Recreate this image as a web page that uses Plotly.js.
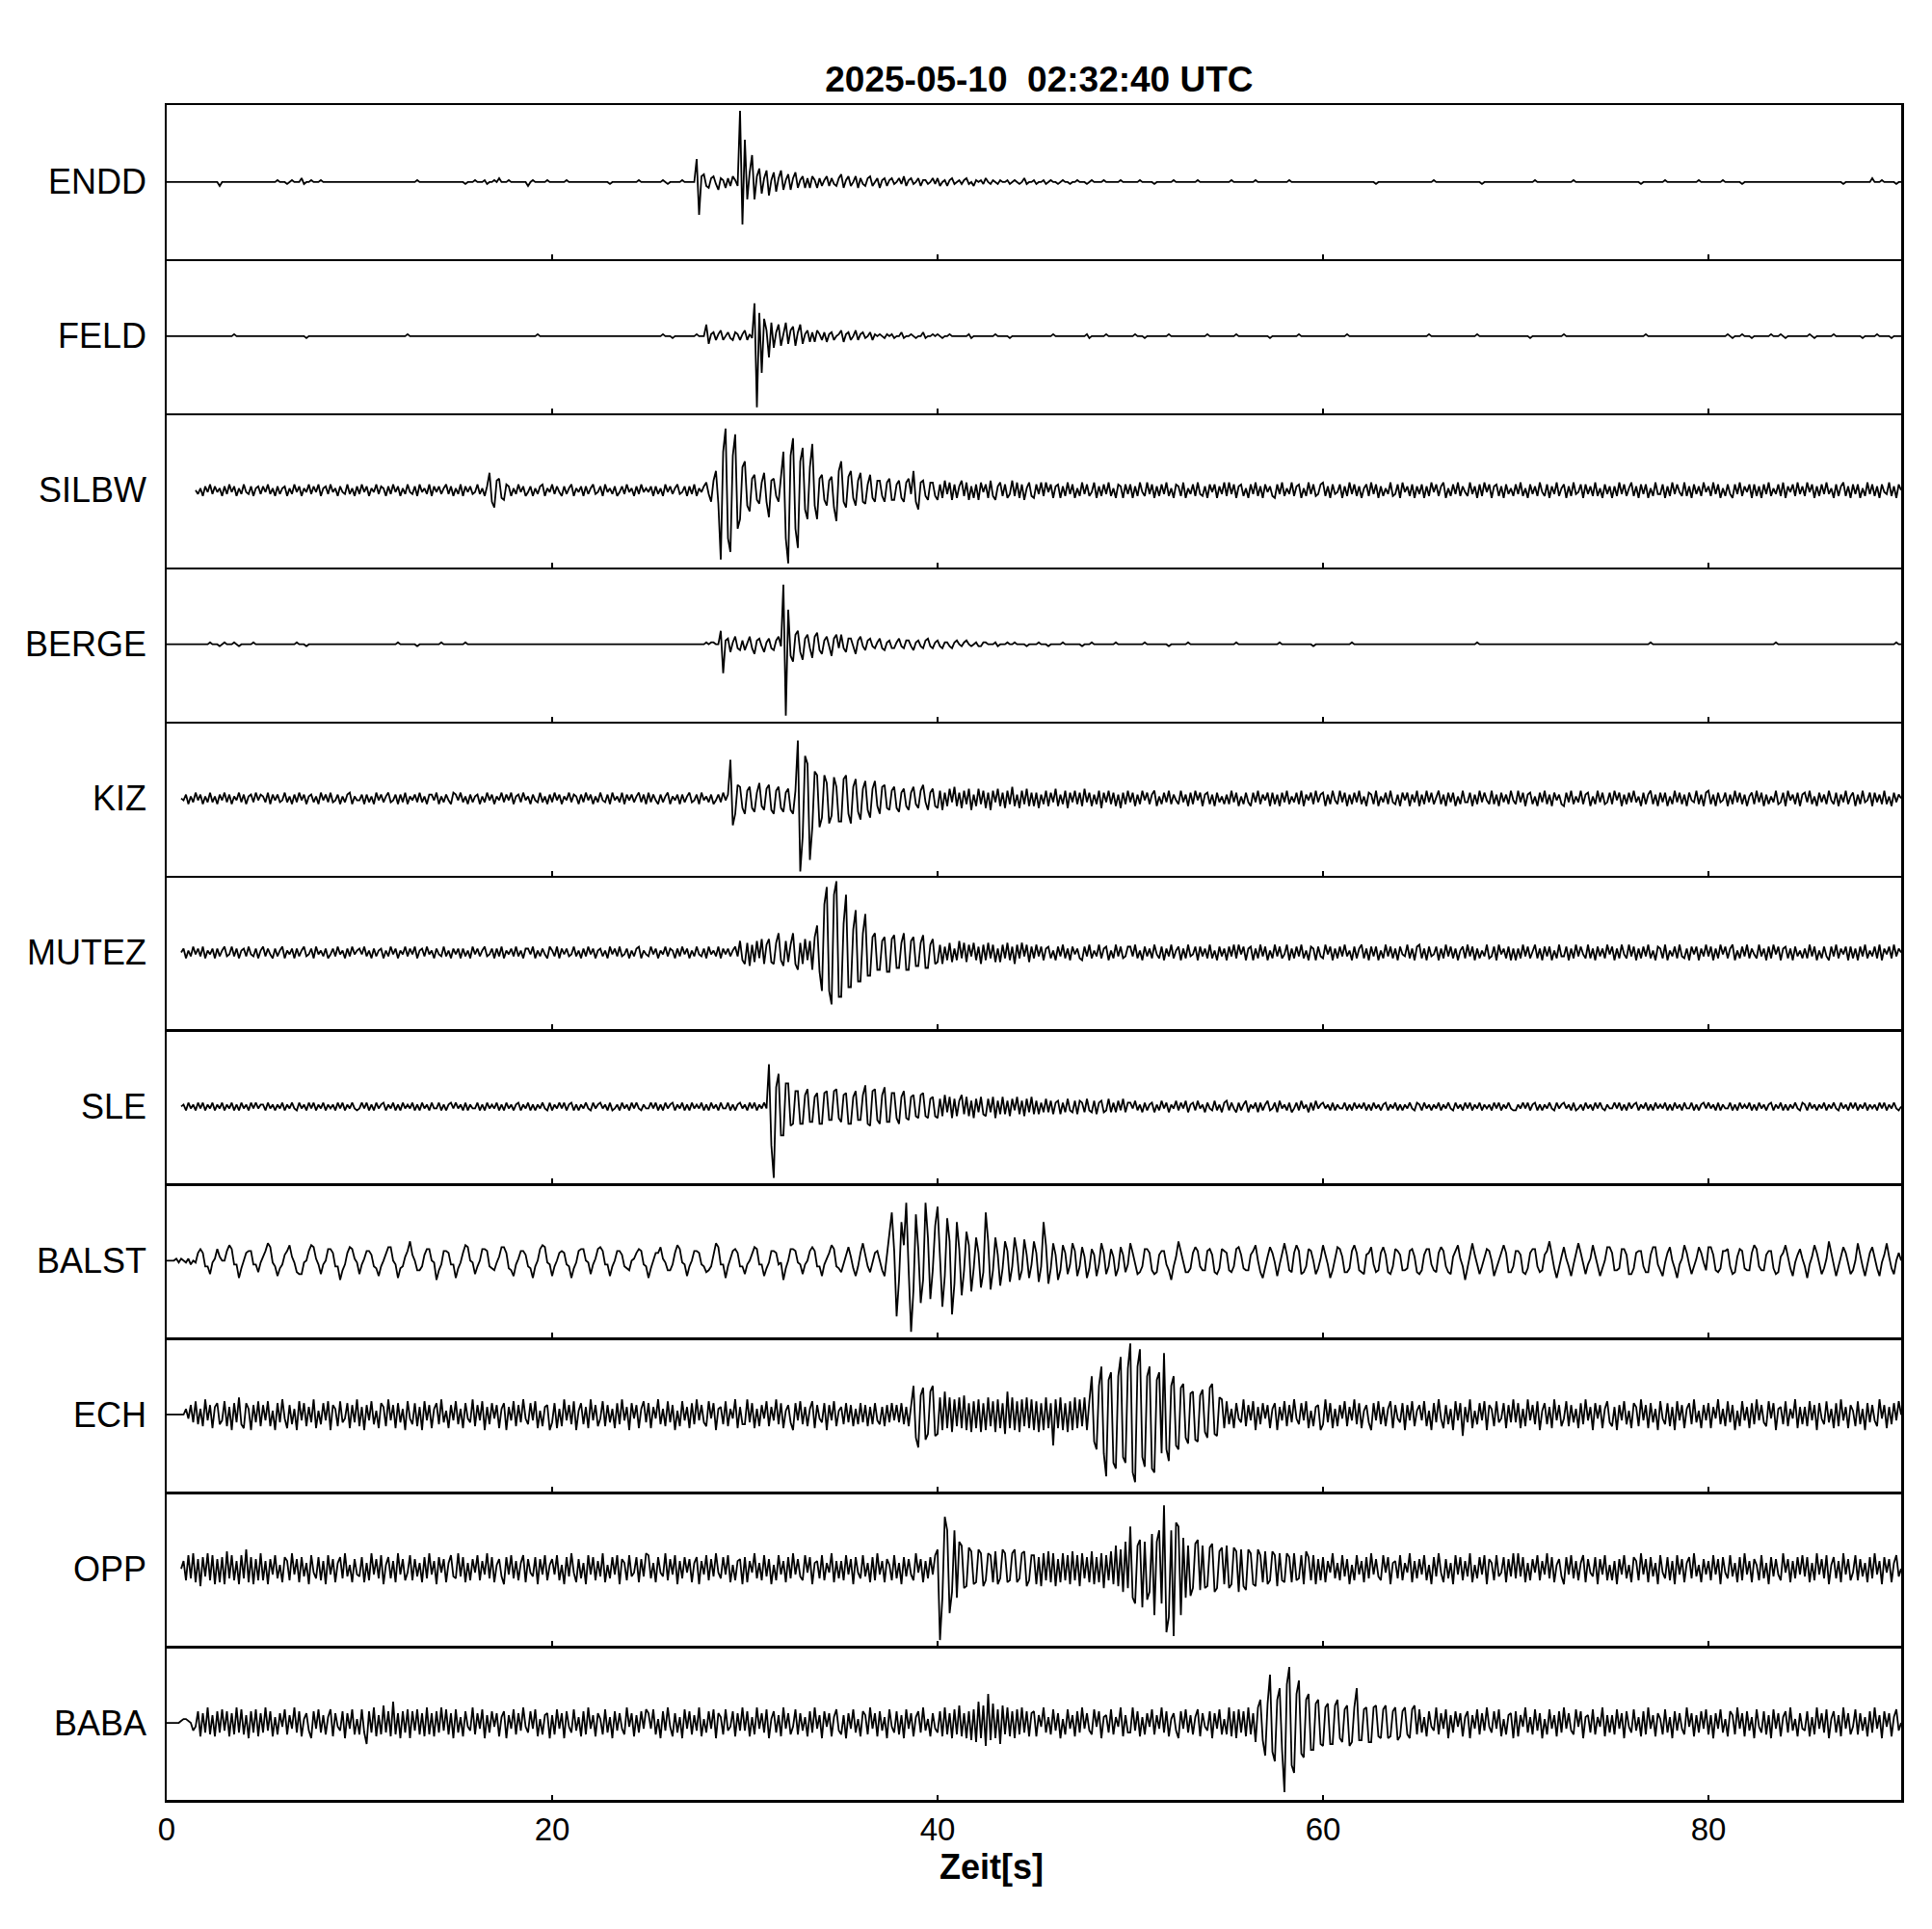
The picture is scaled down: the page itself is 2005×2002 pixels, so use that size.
<!DOCTYPE html>
<html><head><meta charset="utf-8">
<script src="https://cdn.plot.ly/plotly-3.0.1.min.js"></script>
<style>html,body{margin:0;padding:0;background:#fff;}#chart{width:2005px;height:2002px;}</style>
</head><body><div id="chart"></div>
<script>
// Station names (top to bottom)
const stations = ['ENDD','FELD','SILBW','BERGE','KIZ','MUTEZ','SLE','BALST','ECH','OPP','BABA'];
// Sample interval of the traces below (seconds); one row = 5 s = 40 samples
const SAMPLE_DT = 0.125;
// Trace amplitudes (panel spans -40 .. 40), t = 0 ... 90 s
const ENDD = [
0,0,0,0,0,0,0,0,0,0, 0,0,0,0,0,0,0,0,0,0, 0,0,-2,0,0,0,0,0,0,0, 0,0,0,0,0,0,0,0,0,0,
0,0,0,0,0,0,1,0,0,0, -1,0,1,0,0,0,2,-1,0,0, 1,0,0,0,1,0,0,0,0,0, 0,0,0,0,0,0,0,0,0,0,
0,0,0,0,0,0,0,0,0,0, 0,0,0,0,0,0,0,0,0,0, 0,0,0,0,1,0,0,0,0,0, 0,0,0,0,0,0,0,0,0,0,
0,0,0,0,-1,0,0,0,1,0, 0,0,1,-1,0,0,1,0,2,0, 0,0,1,0,0,0,0,0,0,0, -2,0,1,0,0,0,0,0,1,0,
0,0,0,0,0,0,1,0,0,0, 0,0,0,0,0,0,0,0,0,0, 0,0,0,0,-1,0,0,0,0,0, 0,0,0,0,0,0,1,0,0,0,
0,0,0,0,0,0,1,0,-1,0, 0,0,0,0,1,0,0,0,0,0, 12,-17,3,4,-2,-3,2,3,-1,-4, 2,1,-3,2,-2,3,1,-2,37,-22,
22,-9,5,14,-9,3,7,-6,2,6, -7,1,5,-5,2,6,-4,1,4,-4, 2,5,-3,1,3,-3,2,-3,3,1, -3,2,-2,1,3,-2,2,-1,-2,2,
4,-3,1,3,-2,0,3,-3,2,-1, -2,2,3,-2,0,2,-3,1,2,-2, 1,2,-1,0,2,-1,3,-2,1,2, -1,0,2,-2,1,1,-1,0,2,-1,
2,-2,0,1,-2,1,2,-1,0,1, -1,1,2,-1,0,-2,1,0,1,-1, 2,0,-1,1,0,-1,1,0,0,1, -1,0,1,0,-1,0,2,-1,0,0,
1,-1,0,0,1,-1,0,1,0,0, -1,0,1,0,0,-1,0,0,1,0, 0,0,-1,0,1,0,0,0,0,1, 0,0,0,0,0,0,1,0,0,0,
0,0,0,0,1,0,0,0,0,0, -1,0,0,0,0,0,0,0,1,0, 0,0,0,0,0,0,0,0,1,0, 0,0,0,0,0,0,0,0,0,0,
0,0,1,0,0,0,0,0,0,0, 0,0,1,0,0,0,0,0,0,0, 0,0,0,0,0,0,1,0,0,0, 0,0,0,0,0,0,0,0,0,0,
0,0,0,0,0,0,0,0,0,0, 0,0,0,0,0,0,0,0,0,0, 0,0,-1,0,0,0,0,0,0,0, 0,0,0,0,0,0,0,0,0,0,
0,0,0,0,0,0,1,0,0,0, 0,0,0,0,0,0,0,0,0,0, 0,0,0,0,0,0,-1,0,0,0, 0,0,0,0,0,0,0,0,0,0,
0,0,0,0,0,0,0,0,1,0, 0,0,0,0,0,0,0,0,0,0, 0,0,0,0,1,0,0,0,0,0, 0,0,0,0,0,0,0,0,0,0,
0,0,0,0,0,0,0,0,0,0, 0,0,-1,0,0,0,0,0,0,0, 0,0,1,0,0,0,0,0,0,0, 0,0,0,0,0,0,1,0,0,0,
0,0,0,0,0,0,1,0,0,0, 0,0,0,0,-1,0,0,0,0,0, 0,0,0,0,0,0,0,0,0,0, 0,0,0,0,0,0,0,0,0,0,
0,0,0,0,0,0,0,0,0,0, 0,0,0,0,0,0,-1,0,0,0, 0,0,0,0,0,0,0,0,2,0, 0,0,1,0,0,0,0,0,-1,0,
0];
const FELD = [
0,0,0,0,0,0,0,0,0,0, 0,0,0,0,0,0,0,0,0,0, 0,0,0,0,0,0,0,0,1,0, 0,0,0,0,0,0,0,0,0,0,
0,0,0,0,0,0,0,0,0,0, 0,0,0,0,0,0,0,0,-1,0, 0,0,0,0,0,0,0,0,0,0, 0,0,0,0,0,0,0,0,0,0,
0,0,0,0,0,0,0,0,0,0, 0,0,0,0,0,0,0,0,0,0, 1,0,0,0,0,0,0,0,0,0, 0,0,0,0,0,0,0,0,0,0,
0,0,0,0,0,0,0,0,0,0, 0,0,0,0,0,0,0,0,0,0, 0,0,0,0,0,0,0,0,0,0, 0,0,0,0,1,0,0,0,0,0,
0,0,0,0,0,0,0,0,0,0, 0,0,0,0,0,0,0,0,0,0, 0,0,0,0,0,0,0,0,0,0, 0,0,0,0,0,0,0,0,0,0,
0,0,0,0,0,0,1,0,0,0, -1,0,0,0,0,0,0,0,0,0, 1,0,0,0,6,-4,1,2,-2,1, 3,-2,0,2,-1,-2,2,1,-2,1,
3,-2,1,-1,17,-37,12,-19,9,3, -11,7,-6,2,6,-5,1,7,-4,3, 5,-5,2,6,-4,1,3,-3,2,-3, 3,1,-2,2,-3,1,2,-2,0,1,
3,-3,1,2,-2,0,3,-2,1,2, -1,0,2,-2,1,0,1,0,-1,1, 0,1,-1,0,0,2,-1,0,0,1, 0,-1,0,0,2,-1,0,0,1,0,
1,0,-1,0,0,1,0,0,0,0, 0,0,0,1,-1,0,0,0,0,0, 0,0,0,0,1,0,0,0,0,0, -1,0,0,0,0,0,0,0,0,0,
0,0,0,0,0,0,0,0,1,0, 0,0,0,0,0,0,0,0,0,0, 0,0,1,-1,0,0,0,0,0,0, 1,0,0,0,0,0,0,0,0,0,
0,0,1,0,0,0,-1,0,0,0, 0,0,0,0,0,0,1,0,0,0, 0,0,0,0,0,0,0,0,0,0, 0,0,1,0,0,0,0,0,0,0,
0,0,0,0,1,0,0,0,0,0, 0,0,0,0,0,0,0,0,-1,0, 0,0,0,0,0,0,0,0,0,0, 1,0,0,0,0,0,0,0,0,0,
0,0,0,0,0,0,0,0,0,0, 1,0,0,0,0,0,0,0,0,0, 0,0,0,0,0,0,0,0,0,0, 0,0,0,0,0,0,0,0,0,0,
0,0,0,0,1,0,0,0,0,0, 0,0,0,0,0,0,0,0,0,0, 0,0,0,0,1,0,0,0,0,0, 0,0,0,0,0,0,0,0,0,0,
0,0,0,0,0,0,-1,0,0,0, 0,0,0,0,0,0,0,0,0,0, 1,0,0,0,0,0,0,0,0,0, 0,0,0,0,0,0,0,0,0,0,
0,0,0,0,0,0,0,0,0,0, 0,0,0,0,1,0,0,0,0,0, 0,0,0,0,0,0,0,0,0,0, 0,0,0,0,0,0,0,0,0,0,
0,0,0,0,0,0,0,0,1,0, -1,0,0,0,1,0,0,0,-1,0, 0,0,0,0,0,0,1,0,0,0, 1,0,-1,0,0,0,0,0,0,0,
0,0,1,0,-1,0,0,0,0,0, 0,0,1,0,0,0,0,0,0,0, 0,0,0,0,-1,0,0,0,0,0, 1,0,0,0,0,0,-1,0,0,0,
0];
const SILBW = [
null,null,null,null,null,null,null,null,null,null, null,null,0,-2,1,-3,2,-1,3,-2, 2,-1,1,-3,2,-2,3,-1,2,-3, 1,-2,3,-1,-2,2,-3,1,2,-2,
2,-1,3,-2,1,-3,2,-2,1,2, -3,1,-2,3,-1,2,-3,1,-1,3, -2,2,-1,3,-3,1,2,-2,3,-1, 1,-3,2,-1,-2,3,-2,1,-3,2,
-2,3,-1,2,-3,1,-1,3,-2,2, 1,-3,2,-2,3,-1,2,-3,1,-2, 3,-1,-2,2,-3,3,-1,1,-2,3, -3,2,-1,2,-2,1,3,-2,2,-3,
1,-2,3,-3,2,-1,2,-2,-1,3, -2,1,-3,2,9,-6,-9,5,6,-4, -5,3,2,-3,1,-2,3,-1,2,-3, -1,2,-3,1,-2,2,3,-3,1,-1,
3,-2,2,-1,-3,2,-2,1,3,-3, 1,-1,2,-3,2,-2,1,3,-2,-1, 2,-3,3,-1,1,-2,2,-3,-1,2, -2,3,-1,1,-3,2,-2,3,-1,1,
-1,2,-3,2,-2,1,-3,3,-1,2, -2,1,3,-2,-1,2,-3,2,-2,3, -3,1,-1,2,4,-2,-6,5,10,-7, -36,20,32,-25,-32,18,29,-20,-15,12,
15,-8,-11,6,8,-5,-7,4,9,-6, -14,5,6,-3,-6,8,20,-25,-38,18, 27,-20,-30,15,22,-10,-15,12,24,-8, -15,6,8,-5,-8,5,7,-9,-16,10,
15,-6,-9,7,10,-4,-8,5,9,-6, -7,3,8,-4,-6,5,5,-3,-6,4, 6,-5,-5,3,5,-4,-6,4,6,-2, 10,-6,-10,4,5,-3,-5,4,4,-3,
-5,3,-4,5,-2,4,-5,3,-4,2, 5,-3,4,-5,2,-4,3,-5,4,-1, 3,-4,5,-3,-5,2,4,-3,3,-4, -2,5,-3,4,-4,3,-5,1,4,-3,
-4,3,-2,4,-3,4,-1,3,-4,2, 3,-4,2,-3,4,-2,3,-4,1,-3, 4,-2,3,-3,-1,4,-4,2,-3,3, -2,4,-3,1,-4,3,2,-4,3,-2,
3,-4,2,-3,4,-1,-3,4,-2,3, -4,2,-3,3,-2,4,-3,1,-4,3, 2,-3,4,-4,1,-2,3,-3,4,-2, -3,2,-4,3,-1,3,-4,2,-2,4,
-3,4,-2,3,-4,2,3,-3,1,-4, 3,-2,4,-3,2,-4,3,-1,2,-3, -4,3,-2,4,-3,1,-2,4,-3,2, 3,-4,1,-3,4,-2,3,-3,-2,3,
4,-3,2,-4,3,-2,-1,3,-4,2, -3,4,-2,3,-3,2,-4,1,3,-3, 4,-2,3,-4,2,-3,1,-2,4,-3, -2,3,-4,4,-1,2,-3,3,-4,2,
-2,3,-4,2,-3,4,-1,3,-3,2, 4,-4,1,-3,3,-2,4,-3,2,-1, -3,4,-2,2,-4,3,-3,4,-1,3, -4,2,3,-3,2,-4,3,-2,1,-3,
3,-2,4,-3,1,-4,3,-2,2,-3, 4,-1,-3,3,-4,2,-2,4,-3,1, 3,-4,2,-3,4,-2,-1,3,-4,3, -2,2,-3,4,-3,1,-4,3,-2,2,
-4,2,-3,4,-2,3,-3,1,4,-3, 2,-4,3,-2,3,-4,1,-3,4,-2, -2,3,-4,2,-3,4,-2,3,-1,-3, 4,-3,2,-4,3,-2,2,-3,4,-1,
2,-3,4,-2,3,-4,1,-3,3,-2, -4,3,-2,4,-3,2,-1,3,-4,3, -3,2,-4,3,-2,4,-3,1,-2,3, -3,4,-4,2,-1,3,-3,4,-2,2,
-3,4,-1,3,-4,2,-3,3,-2,4, -2,1,-4,3,-3,2,4,-3,2,-4, 3,-2,3,-4,1,-3,4,-2,3,-3, 2,-4,3,-1,-2,4,-3,2,-4,3,
0];
const BERGE = [
0,0,0,0,0,0,0,0,0,0, 0,0,0,0,0,0,0,0,1,0, 0,0,-1,0,1,0,0,0,1,0, -1,0,0,0,0,0,1,0,0,0,
0,0,0,0,0,0,0,0,0,0, 0,0,0,0,1,0,0,0,-1,0, 0,0,0,0,0,0,0,0,0,0, 0,0,0,0,0,0,0,0,0,0,
0,0,0,0,0,0,0,0,0,0, 0,0,0,0,0,0,1,0,0,0, 0,0,0,0,-1,0,0,0,0,0, 0,0,0,0,1,0,0,0,0,0,
0,0,0,0,1,0,0,0,0,0, 0,0,0,0,0,0,0,0,0,0, 0,0,0,0,0,0,0,0,0,0, 0,0,0,0,0,0,0,0,0,0,
0,0,0,0,0,0,0,0,0,0, 0,0,0,0,0,0,0,0,0,0, 0,0,0,0,0,0,0,0,0,0, 0,0,0,0,0,0,0,0,0,0,
0,0,0,0,0,0,0,0,0,0, 0,0,0,0,0,0,0,0,0,0, 0,0,0,0,1,0,1,1,0,0, 7,-15,2,3,-4,1,4,-2,-3,2,
-3,1,4,-2,-5,2,3,-1,-4,1, 3,-2,-3,2,4,-1,31,-37,18,-6, -9,5,7,-4,-8,3,5,-2,-7,4, 6,-3,-5,2,4,-1,-6,3,5,-2,
5,-2,-4,3,3,-1,-5,2,4,-1, -3,2,3,-1,-2,1,3,-2,-3,1, 2,-2,-2,1,3,-1,-2,2,2,-1, -3,1,2,-1,-2,2,3,-1,-2,1,
2,-1,-2,1,1,-1,-2,1,2,0, -1,1,2,0,-1,0,1,-1,-1,1, 1,0,0,0,1,-1,0,0,0,1, 0,0,1,0,0,0,0,-1,0,0,
0,0,1,0,0,0,-1,0,0,0, 0,0,1,0,0,0,0,0,0,0, -1,0,0,0,1,0,0,0,0,0, 0,0,0,0,1,0,0,0,0,0,
0,0,0,0,0,0,1,0,0,0, 0,0,0,0,0,0,-1,0,0,0, 0,0,0,0,1,0,0,0,0,0, 0,0,0,0,0,0,0,0,0,0,
0,0,0,0,1,0,0,0,0,0, 0,0,0,0,0,0,0,0,0,0, 0,0,1,0,0,0,0,0,0,0, 0,0,0,0,0,0,-1,0,0,0,
0,0,0,0,0,0,0,0,0,0, 0,0,1,0,0,0,0,0,0,0, 0,0,0,0,0,0,0,0,0,0, 0,0,0,0,0,0,0,0,0,0,
0,0,0,0,0,0,0,0,0,0, 0,0,0,0,0,0,0,0,0,0, 0,0,0,0,1,0,0,0,0,0, 0,0,0,0,0,0,0,0,0,0,
0,0,0,0,0,0,0,0,0,0, 0,0,0,0,0,0,0,0,0,0, 0,0,0,0,0,0,0,0,0,0, 0,0,0,0,0,0,0,0,0,0,
0,0,0,0,0,0,0,0,0,0, 0,0,0,0,0,0,1,0,0,0, 0,0,0,0,0,0,0,0,0,0, 0,0,0,0,0,0,0,0,0,0,
0,0,0,0,0,0,0,0,0,0, 0,0,0,0,0,0,0,0,0,0, 0,0,0,0,0,0,0,0,1,0, 0,0,0,0,0,0,0,0,0,0,
0,0,0,0,0,0,0,0,0,0, 0,0,0,0,0,0,0,0,0,0, 0,0,0,0,0,0,0,0,0,0, 0,0,0,0,0,0,0,0,1,0,
0];
const KIZ = [
null,null,null,null,null,null,0,-1,2,-3, 1,-2,3,-1,2,-3,1,-2,3,-2, 1,-3,2,-1,3,-2,2,-3,1,-1, 3,-2,2,-3,1,2,-2,3,-1,2,
1,-2,3,-3,2,-1,2,-2,-1,3, -2,1,-3,2,-2,3,-1,2,-3,1, 2,-2,1,-3,3,-1,2,-2,3,-2, -1,2,-3,1,-2,2,3,-3,1,-1,
-1,2,-3,2,-2,1,-3,3,-1,2, -2,1,3,-2,-1,2,-3,2,-2,3, -3,1,-1,2,-2,3,-2,1,-3,2, 2,-1,3,-3,1,-2,2,-1,-3,3,
2,-1,3,-2,1,-3,2,-2,1,2, -3,1,-2,3,-1,2,-3,1,-1,3, -2,2,-1,3,-3,1,2,-2,3,-1, 1,-3,2,-1,-2,3,-2,1,-3,2,
-2,3,-1,2,-3,1,-1,3,-2,2, 1,-3,2,-2,3,-1,2,-3,1,-2, 3,-1,-2,2,-3,3,-1,1,-2,3, -3,2,-1,2,-2,1,3,-2,2,-3,
3,-2,2,-1,-3,2,-2,1,3,-3, 1,-1,2,-3,2,-2,1,3,-2,-1, 2,-3,3,-1,1,-2,2,-3,-1,2, -2,3,-1,2,20,-14,-8,7,6,-5,
-8,4,6,-5,-7,3,8,-4,-6,5, 7,-6,-8,4,6,-5,-7,3,5,-6, -8,4,30,-38,-20,22,18,-32,-15,14, 12,-15,-10,12,8,-13,-9,11,6,-12,
-12,10,12,-8,-13,6,10,-7,-11,5, 9,-6,-10,5,9,-4,-8,6,7,-5, -6,4,6,-5,-7,3,5,-4,-6,3, 6,-3,-5,4,7,-2,-6,3,5,-4,
-5,4,-6,3,-4,5,-2,6,-4,3, -5,4,-3,5,-6,2,-4,5,-3,4, -5,3,-6,4,-2,5,-4,3,-5,4, -3,6,-4,2,-5,4,-3,5,-4,3,
-4,3,-5,2,-3,4,-4,3,-2,5, -4,2,-3,4,-5,3,-2,4,-3,3, -4,5,-2,3,-4,2,-3,4,-5,3, -2,4,-3,3,-4,2,-5,3,-3,4,
-2,3,-4,2,-3,4,-1,3,-3,2, 4,-4,1,-3,3,-2,4,-3,2,-1, -3,4,-2,2,-4,3,-3,4,-1,3, -4,2,3,-3,2,-4,3,-2,1,-3,
2,-3,4,-2,3,-4,1,-3,3,-2, -4,3,-2,4,-3,2,-1,3,-4,3, -3,2,-4,3,-2,4,-3,1,-2,3, -3,4,-4,2,-1,3,-3,4,-2,2,
3,-4,2,-3,4,-1,-3,4,-2,3, -4,2,-3,3,-2,4,-3,1,-4,3, 2,-3,4,-4,1,-2,3,-3,4,-2, -3,2,-4,3,-1,3,-4,2,-2,4,
-4,2,-3,4,-2,3,-3,1,4,-3, 2,-4,3,-2,3,-4,1,-3,4,-2, -2,3,-4,2,-3,4,-2,3,-1,-3, 4,-3,2,-4,3,-2,2,-3,4,-1,
-3,4,-2,3,-4,2,3,-3,1,-4, 3,-2,4,-3,2,-4,3,-1,2,-3, -4,3,-2,4,-3,1,-2,4,-3,2, 3,-4,1,-3,4,-2,3,-3,-2,3,
-3,4,-1,3,-4,2,-3,3,-2,4, -2,1,-4,3,-3,2,4,-3,2,-4, 3,-2,3,-4,1,-3,4,-2,3,-3, 2,-4,3,-1,-2,4,-3,2,-4,3,
4,-3,2,-4,3,-2,-1,3,-4,2, -3,4,-2,3,-3,2,-4,1,3,-3, 4,-2,3,-4,2,-3,1,-2,4,-3, -2,3,-4,4,-1,2,-3,3,-4,2,
3,-2,4,-3,1,-4,3,-2,2,-3, 4,-1,-3,3,-4,2,-2,4,-3,1, 3,-4,2,-3,4,-2,-1,3,-4,3, -2,2,-3,4,-3,1,-4,3,-2,2,
0];
const MUTEZ = [
null,null,null,null,null,null,0,2,-3,1, -2,3,-1,2,-2,3,-3,1,-1,2, -3,2,-2,1,3,-2,-1,3,-2,2, -3,1,2,-2,3,-1,-2,2,-3,1,
3,-2,2,-1,-3,2,-2,1,3,-3, 1,-1,2,-3,2,-2,1,3,-2,-1, 2,-3,3,-1,1,-2,2,-3,-1,2, -2,3,-1,1,-3,2,-2,3,-1,1,
2,-1,3,-2,1,-3,2,-2,1,2, -3,1,-2,3,-1,2,-3,1,-1,3, -2,2,-1,3,-3,1,2,-2,3,-1, 1,-3,2,-1,-2,3,-2,1,-3,2,
-1,2,-3,2,-2,1,-3,3,-1,2, -2,1,3,-2,-1,2,-3,2,-2,3, -3,1,-1,2,-2,3,-2,1,-3,2, 2,-1,3,-3,1,-2,2,-1,-3,3,
1,-2,3,-3,2,-1,2,-2,-1,3, -2,1,-3,2,-2,3,-1,2,-3,1, 2,-2,1,-3,3,-1,2,-2,3,-2, -1,2,-3,1,-2,2,3,-3,1,-1,
-2,3,-1,2,-3,1,-1,3,-2,2, 1,-3,2,-2,3,-1,2,-3,1,-2, 3,-1,-2,2,-3,3,-1,1,-2,3, -3,2,-1,2,-2,1,3,-2,6,-4,
-6,5,-7,4,-5,6,-3,7,-6,4, 7,-5,-6,5,10,-4,-7,6,-5,4, 10,-6,-9,5,-6,7,-4,6,-9,8, 14,-10,-20,25,34,-20,-27,30,37,-23,
-23,15,30,-18,-18,12,22,-15,-15,10, 20,-12,-12,8,10,-9,-9,6,8,-10, -10,7,9,-8,-8,5,10,-9,-9,6, 8,-7,-7,5,9,-8,-8,4,7,-6,
-5,4,-6,3,-4,5,-5,2,-4,6, -3,5,-5,4,-2,5,-4,3,-6,4, -4,5,-3,4,-5,2,-5,4,-3,5, -4,3,-6,4,-3,5,-2,4,-5,3,
-3,4,-2,3,-4,2,3,-3,1,-4, 3,-2,4,-3,2,-4,3,-1,2,-3, -4,3,-2,4,-3,1,-2,4,-3,2, 3,-4,1,-3,4,-2,3,-3,-2,3,
3,-2,4,-3,1,-4,3,-2,2,-3, 4,-1,-3,3,-4,2,-2,4,-3,1, 3,-4,2,-3,4,-2,-1,3,-4,3, -2,2,-3,4,-3,1,-4,3,-2,2,
-4,3,-2,4,-3,4,-1,3,-4,2, 3,-4,2,-3,4,-2,3,-4,1,-3, 4,-2,3,-3,-1,4,-4,2,-3,3, -2,4,-3,1,-4,3,2,-4,3,-2,
-3,4,-1,3,-4,2,-3,3,-2,4, -2,1,-4,3,-3,2,4,-3,2,-4, 3,-2,3,-4,1,-3,4,-2,3,-3, 2,-4,3,-1,-2,4,-3,2,-4,3,
4,-3,2,-4,3,-2,-1,3,-4,2, -3,4,-2,3,-3,2,-4,1,3,-3, 4,-2,3,-4,2,-3,1,-2,4,-3, -2,3,-4,4,-1,2,-3,3,-4,2,
-4,2,-3,4,-2,3,-3,1,4,-3, 2,-4,3,-2,3,-4,1,-3,4,-2, -2,3,-4,2,-3,4,-2,3,-1,-3, 4,-3,2,-4,3,-2,2,-3,4,-1,
3,-4,2,-3,4,-1,-3,4,-2,3, -4,2,-3,3,-2,4,-3,1,-4,3, 2,-3,4,-4,1,-2,3,-3,4,-2, -3,2,-4,3,-1,3,-4,2,-2,4,
-2,3,-4,2,-3,4,-1,3,-3,2, 4,-4,1,-3,3,-2,4,-3,2,-1, -3,4,-2,2,-4,3,-3,4,-1,3, -4,2,3,-3,2,-4,3,-2,1,-3,
2,-3,4,-2,3,-4,1,-3,3,-2, -4,3,-2,4,-3,2,-1,3,-4,3, -3,2,-4,3,-2,4,-3,1,-2,3, -3,4,-4,2,-1,3,-3,4,-2,2,
0];
const SLE = [
null,null,null,null,null,null,0,1,-2,2, -1,1,-2,2,-1,2,-2,1,-1,2, -2,1,-1,2,-2,1,-1,2,-2,1, -2,2,-1,1,-2,2,-1,2,-1,1,
1,-2,2,-1,1,-2,1,-1,2,-2, 1,-1,2,-1,-2,2,-1,1,-2,2, -1,2,-2,1,-1,2,-2,1,-1,1, -2,2,-1,2,-2,1,-1,2,-1,-2,
-1,2,-1,2,-2,1,-2,2,-1,1, 2,-2,1,-1,2,-2,1,-2,2,-1, 1,-1,2,-2,1,-2,2,-1,1,-2, 2,-1,-1,2,-2,1,-2,1,2,-1,
2,-1,1,-2,2,-2,1,-1,-1,2, -2,1,-2,2,-1,1,-1,2,-2,1, -2,2,-1,1,-2,1,2,-2,1,-1, 2,-2,1,-2,1,-1,2,-1,-2,2,
-2,1,-1,2,-1,2,-2,1,2,-2, 1,-2,1,-1,2,-1,-2,2,-1,1, 2,-1,1,-2,2,-2,-1,1,-2,2, -1,1,-2,2,-1,2,-1,-2,1,-1,
-1,2,-1,2,-2,1,-2,2,-1,1, 2,-2,1,-1,2,-2,1,-2,2,-1, 1,-1,2,-2,1,-2,2,-1,1,-2, 2,-1,-1,2,-2,1,-2,1,2,-1,
1,-2,2,-1,2,-2,1,-1,2,-1, 22,-20,-37,10,17,-15,-15,12,12,-10, -9,8,8,-9,-9,6,9,-8,-8,5, 7,-9,-9,7,8,-7,-7,8,9,-6,
-8,6,7,-9,-9,5,8,-7,-7,6, 11,-9,-10,8,9,-7,-9,6,10,-8, -8,7,7,-6,-9,5,8,-6,-7,5, 6,-5,-6,6,7,-5,-6,4,5,-5,
-6,4,-5,6,-3,5,-6,4,-5,3, 6,-4,5,-5,3,-6,4,-3,5,-4, -5,4,-3,5,-6,3,-4,5,-4,3, -5,4,-2,5,-4,3,-5,4,-3,5,
-4,3,-4,2,-3,4,-3,3,-4,2, 3,-4,2,-3,4,-2,-3,3,-4,3, 2,-3,4,-2,-3,3,-4,2,3,-3, -2,4,-3,2,-3,3,-2,4,-3,2,
2,-1,3,-2,1,-3,2,-2,1,2, -3,1,-2,3,-1,2,-3,1,-1,3, -2,2,-1,3,-3,1,2,-2,3,-1, 1,-3,2,-1,-2,3,-2,1,-3,2,
3,-2,2,-1,-3,2,-2,1,3,-3, 1,-1,2,-3,2,-2,1,3,-2,-1, 2,-3,3,-1,1,-2,2,-3,-1,2, -2,3,-1,1,-3,2,-2,3,-1,1,
2,-1,1,-2,2,-2,1,-1,-1,2, -2,1,-2,2,-1,1,-1,2,-2,1, -2,2,-1,1,-2,1,2,-2,1,-1, 2,-2,1,-2,1,-1,2,-1,-2,2,
1,-2,2,-1,1,-2,1,-1,2,-2, 1,-1,2,-1,-2,2,-1,1,-2,2, -1,2,-2,1,-1,2,-2,1,-1,1, -2,2,-1,2,-2,1,-1,2,-1,-2,
-2,1,-1,2,-1,2,-2,1,2,-2, 1,-2,1,-1,2,-1,-2,2,-1,1, 2,-1,1,-2,2,-2,-1,1,-2,2, -1,1,-2,2,-1,2,-1,-2,1,-1,
-1,2,-1,2,-2,1,-2,2,-1,1, 2,-2,1,-1,2,-2,1,-2,2,-1, 1,-1,2,-2,1,-2,2,-1,1,-2, 2,-1,-1,2,-2,1,-2,1,2,-1,
2,-1,1,-2,2,-2,1,-1,-1,2, -2,1,-2,2,-1,1,-1,2,-2,1, -2,2,-1,1,-2,1,2,-2,1,-1, 2,-2,1,-2,1,-1,2,-1,-2,2,
1,-2,2,-1,1,-2,1,-1,2,-2, 1,-1,2,-1,-2,2,-1,1,-2,2, -1,2,-2,1,-1,2,-2,1,-1,1, -2,2,-1,2,-2,1,-1,2,-1,-2,
0];
const BALST = [
0,0,0,0,1,-1,1,0, -1,1,-2,0,-1,4,6,4, -3,-3,-7,-1,1,6,2,0, 0,5,8,6,-2,-2,-9,-4, 0,4,5,5,-2,-2,-6,-1,
2,5,9,7,-1,-3,-8,-4, -2,3,5,8,2,-1,-6,-7, -7,-1,0,5,8,7,1,-2, -7,-2,0,6,6,4,-3,-3, -10,-5,-2,4,7,6,1,-1,
-7,-2,1,5,5,3,-3,-4, -8,-3,0,4,7,7,0,-2, -9,-4,-3,2,5,10,3,0, -5,-5,-3,3,6,6,0,-1, -10,-5,-2,5,5,4,-2,-2,
-9,-4,-1,4,8,7,0,-1, -7,-3,0,6,6,5,-3,-4, -5,-1,2,7,7,4,-4,-5, -8,-2,1,5,5,3,-3,-4, -9,-3,0,6,8,7,-1,-2,
-8,-3,0,4,5,4,-2,-3, -9,-4,-1,5,6,6,0,-1, -7,-2,1,6,7,5,-2,-2, -8,-3,0,5,5,3,-3,-4, -5,0,1,4,6,5,-2,-3,
-9,-4,0,4,4,7,1,-1, -5,-5,-2,4,8,6,-1,-2, -8,-3,0,5,5,4,-2,-3, -6,-5,-3,4,9,7,-2,-2, -9,-3,1,5,6,4,-3,-3,
-7,-2,0,4,7,6,-2,-2, -8,-4,-1,5,5,4,-2,-1, -10,-4,0,6,6,5,-1,-2, -7,-2,0,5,7,5,-3,-3, -8,-2,1,4,8,6,-3,-4,
-6,-2,3,7,2,-4,-8,-3, 4,9,3,-3,-6,-1,4,5, 0,-5,-8,3,12,25,5,-29, -10,20,8,30,-5,-37,-15,24, 6,-22,-10,30,12,-20,-5,18,
28,5,-24,-8,22,10,-28,-12, 20,6,-18,-5,15,8,-16,-4, 12,4,-14,-6,25,10,-15,-5, 12,3,-13,-4,10,5,-11,-3, 12,4,-10,-5,11,3,-9,-2,
10,4,-11,-3,20,8,-12,-4, 9,3,-10,-5,8,4,-7,-2, 9,5,-8,-3,7,2,-9,-4, 6,3,-8,-2,9,4,-7,-3, 6,2,-8,-4,7,3,-6,-2,
9,4,-2,-7,-6,-3,6,6, 4,-5,-7,-6,3,5,5,-2, -5,-10,-3,2,10,5,-1,-6, -6,-4,4,7,5,-3,-5,-5, 5,6,3,-6,-7,-4,6,5,
4,-5,-6,-3,6,7,3,-4, -5,-5,3,5,8,0,-6,-9, -3,2,7,4,-1,-8,-2,3, 9,3,-5,-6,4,8,5,-7, -6,-3,6,5,0,-7,-4,1,
8,3,-2,-9,-5,1,7,6, 2,-6,-6,-4,5,8,4,-5, -6,-7,3,4,7,-2,-6,-5, 4,7,3,-6,-7,-3,6,5, 3,-5,-5,-4,5,6,2,-6,
-7,-5,3,6,6,-2,-5,-6, 4,7,5,-3,-6,-7,2,5, 8,1,-3,-10,-4,2,9,3, -2,-7,-3,1,6,5,0,-8, -4,0,5,8,4,-6,-6,-3,
5,5,3,-6,-7,-4,4,6, 6,-3,-6,-5,3,5,10,2, -4,-9,-3,2,7,1,-3,-8, -2,3,9,4,-1,-7,-2,1, 8,3,-2,-8,-4,0,7,7,
4,-5,-5,-4,6,6,3,-7, -7,-4,4,5,5,-3,-6,-6, 3,7,7,-2,-5,-8,-1,4, 7,0,-4,-9,-2,1,8,4, -2,-7,-3,1,7,4,-1,-5,
7,7,3,-5,-6,-4,5,5, 6,-3,-7,-6,2,6,5,-4, -5,-5,4,8,6,-3,-5,-5, 3,5,5,-4,-7,-6,2,4, 8,2,-4,-8,-1,3,6,1,
-3,-9,-2,2,8,4,-1,-7, -4,1,10,3,-2,-8,-3,2, 7,4,-1,-7,-5,0,9,2, -3,-8,-2,4,7,1,-4,-8, -1,3,9,2,-4,-7,0,4,
0];
const ECH = [
0,0,0,0,0,0,0,0, 3,-2,5,-4,7,-5,3,-6, 8,-3,5,-7,4,6,-5,-3, 7,-6,4,-8,6,-4,9,-5, -7,6,3,-8,5,-4,7,-6,
5,-3,7,-6,2,-8,6,-4,8,-2, -7,5,-5,3,-8,7,-3,6,-6,4, -4,8,-7,2,-5,6,-3,7,-8,5, 3,-6,7,-4,-2,6,-7,5,-4,8,
-6,4,-8,5,-3,7,-5,2,-7,6, 4,-6,8,-3,5,-7,6,-4,3,-8, 7,-2,-5,6,-6,4,-8,7,-3,5, -7,3,6,-5,8,-4,2,-7,5,-3,
7,-5,3,-7,6,-2,-4,8,-6,5, -3,7,-8,4,-5,6,-2,5,-7,3, 6,-8,4,-3,7,-6,5,-4,8,-2, -5,6,-3,7,-7,2,-6,4,5,-8,
-4,6,-7,3,-6,8,-3,5,-5,7, -8,2,6,-5,4,-7,8,-3,5,-6, -2,7,-6,5,-4,3,-7,6,-5,8, -3,4,-8,6,-2,5,-7,3,7,-4,
6,-7,4,-2,8,-5,3,-6,7,-4, 5,-8,2,-6,7,-3,4,-7,6,-5, 8,-3,5,-4,-6,7,-2,6,-8,3, 4,-5,7,-6,3,-2,8,-7,4,-5,
-5,8,-4,6,-7,3,-6,5,-2,7, -6,4,-3,8,-5,6,-7,2,5,-4, -8,6,-3,7,-5,4,-6,3,7,-7, 5,-2,-4,6,-8,5,-3,7,-6,2,
4,-5,6,-4,5,-6,3,-5, 6,-4,5,-6,4,-5,6,-3, -5,4,-6,5,-4,6,-3,5, -4,6,-5,4,-6,5,15,-12, -17,10,14,-13,-10,12,15,-11,
-10,9,-8,12,-7,9,-9,8, -6,9,-7,10,-8,6,-9,7, -7,8,-9,6,-8,9,-6,7, -9,8,-7,6,-10,12,-7,9, -8,7,-9,8,-6,9,-7,8,
-8,7,-9,6,-8,9,-7,6, -16,8,-7,9,-8,6,-9,7, -8,9,-7,8,-6,9,-8,7, 20,-14,-18,15,25,-20,-32,18, 22,-25,-28,20,30,-22,-25,24,
37,-30,-35,25,34,-22,-27,20, 25,-28,-30,18,22,-20,32,-18, -24,15,20,-16,-18,14,16,-12, -15,11,12,-13,-14,10,13,-9, -12,14,16,-10,-11,9,8,-7,
7,-5,3,-7,6,-2,-4,8,-6,5, -3,7,-8,4,-5,6,-2,5,-7,3, 6,-8,4,-3,7,-6,5,-4,8,-2, -5,6,-3,7,-7,2,-6,4,5,-8,
-5,8,-4,6,-7,3,-6,5,-2,7, -6,4,-3,8,-5,6,-7,2,5,-4, -8,6,-3,7,-5,4,-6,3,7,-7, 5,-2,-4,6,-8,5,-3,7,-6,2,
5,-3,7,-6,2,-8,6,-4,8,-2, -7,5,-5,3,-8,7,-3,6,-11,4, -4,8,-7,2,-5,6,-3,7,-8,5, 3,-6,7,-4,-2,6,-7,5,-4,8,
-4,6,-7,3,-6,8,-3,5,-5,7, -8,2,6,-5,4,-7,8,-3,5,-6, -2,7,-6,5,-4,3,-7,6,-5,8, -3,4,-8,6,-2,5,-7,3,7,-4,
-6,4,-8,5,-3,7,-5,2,-7,6, 4,-6,8,-3,5,-7,6,-4,3,-8, 7,-2,-5,6,-6,4,-8,7,-3,5, -7,3,6,-5,8,-4,2,-7,5,-3,
6,-7,4,-2,8,-5,3,-6,7,-4, 5,-8,2,-6,7,-3,4,-7,6,-5, 8,-3,5,-4,-6,7,-2,6,-8,3, 4,-5,7,-6,3,-2,8,-7,4,-5,
4,-6,7,-3,5,-8,6,-2,-5,7, -4,3,-7,6,-6,8,-3,4,-7,5, 2,-6,7,-5,3,-8,6,-4,5,-3, -6,8,-2,5,-7,4,-5,6,-3,7,
0];
const OPP = [
null,null,null,null,null,null,0,4, -6,7,-5,8,-7,5,-9,6, -4,8,-6,7,-8,5,-7,6, -8,9,-5,7,-6,4,-8,7, -5,10,-7,6,-8,5,-6,8,
-6,4,-8,5,-3,7,-5,2,-7,6, 4,-6,8,-3,5,-7,6,-4,3,-8, 7,-2,-5,6,-6,4,-8,7,-3,5, -7,3,6,-5,8,-4,2,-7,5,-3,
-4,6,-7,3,-6,8,-3,5,-5,7, -8,2,6,-5,4,-7,8,-3,5,-6, -2,7,-6,5,-4,3,-7,6,-5,8, -3,4,-8,6,-2,5,-7,3,7,-4,
-5,8,-4,6,-7,3,-6,5,-2,7, -6,4,-3,8,-5,6,-7,2,5,-4, -8,6,-3,7,-5,4,-6,3,7,-7, 5,-2,-4,6,-8,5,-3,7,-6,2,
5,-3,7,-6,2,-8,6,-4,8,-2, -7,5,-5,3,-8,7,-3,6,-6,4, -4,8,-7,2,-5,6,-3,7,-8,5, 3,-6,7,-4,-2,6,-7,5,-4,8,
7,-5,3,-7,6,-2,-4,8,-6,5, -3,7,-8,4,-5,6,-2,5,-7,3, 6,-8,4,-3,7,-6,5,-4,8,-2, -5,6,-3,7,-7,2,-6,4,5,-8,
6,-7,4,-2,8,-5,3,-6,7,-4, 5,-8,2,-6,7,-3,4,-7,6,-5, 8,-3,5,-4,-6,7,-2,6,-8,3, 4,-5,7,-6,3,-2,8,-7,4,-5,
4,-6,7,-3,5,-8,6,-2,-5,7, -4,3,-7,6,-6,8,-3,4,-7,5, 2,-6,7,-5,3,-8,6,-4,5,-3, -6,8,-2,5,-7,4,-5,6,-3,7,
10,-37,-15,27,20,-23,-12,20, -15,14,12,-10,-9,11,9,-8, -7,10,8,-9,-6,8,7,-7, 9,-8,-5,10,8,-7,-6,8, 10,-7,-5,8,9,-9,-6,7,
7,-8,6,-9,8,-6,9,-7, 8,-9,5,-7,8,-6,7,-8, 9,-6,7,-9,8,-5,6,-7, 9,-8,6,-7,8,-10,7,-6, 9,-8,12,-9,10,-12,14,-10,
22,-15,-18,12,15,-20,14,-16, -12,18,-24,14,20,-18,33,-33, -25,20,-35,24,22,-24,16,-15, 12,-14,-10,13,15,-11,12,-10, -9,11,13,-12,-10,9,11,-8,
12,-10,-8,11,9,-12,10,-9, -11,10,8,-8,-9,10,7,-7, 9,-8,-6,9,7,-9,8,-6, -7,8,6,-7,8,-6,-5,7, -8,9,6,-6,7,-8,5,-6,
6,-7,4,-2,8,-5,3,-6,7,-4, 5,-8,2,-6,7,-3,4,-7,6,-5, 8,-3,5,-4,-6,7,-2,6,-8,3, 4,-5,7,-6,3,-2,8,-7,4,-5,
5,-3,7,-6,2,-8,6,-4,8,-2, -7,5,-5,3,-8,7,-3,6,-6,4, -4,8,-7,2,-5,6,-3,7,-8,5, 3,-6,7,-4,-2,6,-7,5,-4,8,
-5,8,-4,6,-7,3,-6,5,-2,7, -6,4,-3,8,-5,6,-7,2,5,-4, -8,6,-3,7,-5,4,-6,3,7,-7, 5,-2,-4,6,-8,5,-3,7,-6,2,
-6,4,-8,5,-3,7,-5,2,-7,6, 4,-6,8,-3,5,-7,6,-4,3,-8, 7,-2,-5,6,-6,4,-8,7,-3,5, -7,3,6,-5,8,-4,2,-7,5,-3,
4,-6,7,-3,5,-8,6,-2,-5,7, -4,3,-7,6,-6,8,-3,4,-7,5, 2,-6,7,-5,3,-8,6,-4,5,-3, -6,8,-2,5,-7,4,-5,6,-3,7,
-4,6,-7,3,-6,8,-3,5,-5,7, -8,2,6,-5,4,-7,8,-3,5,-6, -2,7,-6,5,-4,3,-7,6,-5,8, -3,4,-8,6,-2,5,-7,3,7,-4,
0];
const BABA = [
0,0,0,0,0,0,1,2, 2,1,0,-4,-2,6,-7,5, -5,8,-6,4,-7,6,-5,7, -4,6,-7,5,-6,8,-5,7, -6,4,-8,6,-5,7,-7,5,
-5,8,-4,6,-7,3,-6,5,-2,7, -6,4,-3,8,-5,6,-7,2,5,-4, -8,6,-3,7,-5,4,-6,3,7,-7, 5,-2,-4,6,-8,5,-3,7,-6,2,
-6,7,-5,-11,6,-5,8,-7, 4,-6,9,-5,6,-7,11,-6, 5,-8,6,-5,7,-8,6,-4, 7,-6,5,-7,8,-6,5,-7, 6,-5,8,-4,7,-6,5,-8,
7,-5,3,-7,6,-2,-4,8,-6,5, -3,7,-8,4,-5,6,-2,5,-7,3, 6,-8,4,-3,7,-6,5,-4,8,-2, -5,6,-3,7,-7,2,-6,4,5,-8,
4,-6,7,-3,5,-8,6,-2,-5,7, -4,3,-7,6,-6,8,-3,4,-7,5, 2,-6,7,-5,3,-8,6,-4,5,-3, -6,8,-2,5,-7,4,-5,6,-3,7,
5,-3,7,-6,2,-8,6,-4,8,-2, -7,5,-5,3,-8,7,-3,6,-6,4, -4,8,-7,2,-5,6,-3,7,-8,5, 3,-6,7,-4,-2,6,-7,5,-4,8,
-4,6,-7,3,-6,8,-3,5,-5,7, -8,2,6,-5,4,-7,8,-3,5,-6, -2,7,-6,5,-4,3,-7,6,-5,8, -3,4,-8,6,-2,5,-7,3,7,-4,
-6,4,-8,5,-3,7,-5,2,-7,6, 4,-6,8,-3,5,-7,6,-4,3,-8, 7,-2,-5,6,-6,4,-8,7,-3,5, -7,3,6,-5,8,-4,2,-7,5,-3,
-5,6,-7,8,-6,5,-8,7, -6,9,-7,5,-8,6,-9,7, -10,11,-8,9,-12,15,-9,10, -8,7,-11,9,-6,8,-7,6, -8,7,-6,8,-5,6,-7,5,
6,-7,4,-2,8,-5,3,-6,7,-4, 5,-8,2,-6,7,-3,4,-7,6,-5, 8,-3,5,-4,-6,7,-2,6,-8,3, 4,-5,7,-6,3,-2,8,-7,4,-5,
-5,8,-4,6,-7,3,-6,5,-2,7, -6,4,-3,8,-5,6,-7,2,5,-4, -8,6,-3,7,-5,4,-6,3,7,-7, 5,-2,-4,6,-8,5,-3,7,-6,2,
-6,8,-7,6,-8,7,-5,6, -7,8,-6,5,-10,8,12,-9, -17,10,25,-15,-20,12,18,-14, -36,20,29,-22,-26,15,22,-16, -18,12,15,-14,-14,10,12,-11,
-12,8,10,-11,-11,9,12,-8, -10,7,9,-12,-10,8,18,-9, -9,7,8,-10,-10,8,9,-7, -8,7,9,-8,-7,6,8,-9, -7,6,8,-6,-8,7,9,-6,
7,-5,3,-7,6,-2,-4,8,-6,5, -3,7,-8,4,-5,6,-2,5,-7,3, 6,-8,4,-3,7,-6,5,-4,8,-2, -5,6,-3,7,-7,2,-6,4,5,-8,
6,-7,4,-2,8,-5,3,-6,7,-4, 5,-8,2,-6,7,-3,4,-7,6,-5, 8,-3,5,-4,-6,7,-2,6,-8,3, 4,-5,7,-6,3,-2,8,-7,4,-5,
4,-6,7,-3,5,-8,6,-2,-5,7, -4,3,-7,6,-6,8,-3,4,-7,5, 2,-6,7,-5,3,-8,6,-4,5,-3, -6,8,-2,5,-7,4,-5,6,-3,7,
-6,4,-8,5,-3,7,-5,2,-7,6, 4,-6,8,-3,5,-7,6,-4,3,-8, 7,-2,-5,6,-6,4,-8,7,-3,5, -7,3,6,-5,8,-4,2,-7,5,-3,
-4,6,-7,3,-6,8,-3,5,-5,7, -8,2,6,-5,4,-7,8,-3,5,-6, -2,7,-6,5,-4,3,-7,6,-5,8, -3,4,-8,6,-2,5,-7,3,7,-4,
0];
// Axis ticks and texts
const xTickVals = [0, 20, 40, 60, 80];
const xTickText = ['0', '20', '40', '60', '80'];
const titleText = '<b>2025-05-10&nbsp; 02:32:40 UTC</b>';
const xTitleText = '<b>Zeit[s]</b>';

const seriesList = [ENDD, FELD, SILBW, BERGE, KIZ, MUTEZ, SLE, BALST, ECH, OPP, BABA];
const FONT = 'Liberation Sans, Arial, Helvetica, sans-serif';
const n = stations.length;
const traces = [];
const layout = {
  width: 2005, height: 2002,
  margin: {l: 173, r: 32, t: 109, b: 134, pad: 0},
  paper_bgcolor: '#fff', plot_bgcolor: '#fff',
  showlegend: false,
  font: {family: FONT, color: '#000'},
  title: {text: titleText, font: {family: FONT, size: 37, color: '#000'},
          x: 0.503, xref: 'paper', xanchor: 'center', y: 1 - 82/2002, yref: 'container', yanchor: 'middle'},
  annotations: [],
  hovermode: false
};
for (let i = 0; i < n; i++) {
  const k = i === 0 ? '' : String(i + 1);
  const ys = seriesList[i];
  const xs = ys.map((v, j) => j * SAMPLE_DT);
  traces.push({type: 'scatter', mode: 'lines', x: xs, y: ys,
    xaxis: 'x' + k, yaxis: 'y' + k, connectgaps: false, hoverinfo: 'skip',
    line: {color: '#000', width: 1.8}});
  const last = i === n - 1;
  layout['xaxis' + k] = {
    domain: [0, 1], range: [0, 90], anchor: 'y' + k,
    matches: i === 0 ? undefined : 'x',
    tickmode: 'array', tickvals: xTickVals, ticktext: xTickText,
    ticks: 'inside', ticklen: 5, tickwidth: 2, tickcolor: '#000',
    showticklabels: last, tickfont: {family: FONT, size: 33, color: '#000'},
    showline: true, linewidth: 2.5, linecolor: '#000', mirror: i === 0,
    showgrid: false, zeroline: false, fixedrange: true
  };
  layout['yaxis' + k] = {
    domain: [1 - (i + 1) / n, 1 - i / n], range: [-40, 40], anchor: 'x' + k,
    showticklabels: false, ticks: '', showgrid: false, zeroline: false,
    showline: true, linewidth: 2.5, linecolor: '#000', mirror: true, fixedrange: true
  };
  layout.annotations.push({
    xref: 'paper', yref: 'y' + k + ' domain', x: 0, y: 0.5,
    xanchor: 'right', yanchor: 'middle', xshift: -19,
    text: stations[i], showarrow: false,
    font: {family: FONT, size: 36, color: '#000'}
  });
}
layout.annotations.push({
  xref: 'paper', yref: 'paper', x: (1029 - 173) / 1800, y: -(1937 - 1868) / 1759,
  xanchor: 'center', yanchor: 'middle', text: xTitleText, showarrow: false,
  font: {family: FONT, size: 36, color: '#000'}
});
Plotly.newPlot('chart', traces, layout, {staticPlot: true, displayModeBar: false});
</script>
</body></html>
